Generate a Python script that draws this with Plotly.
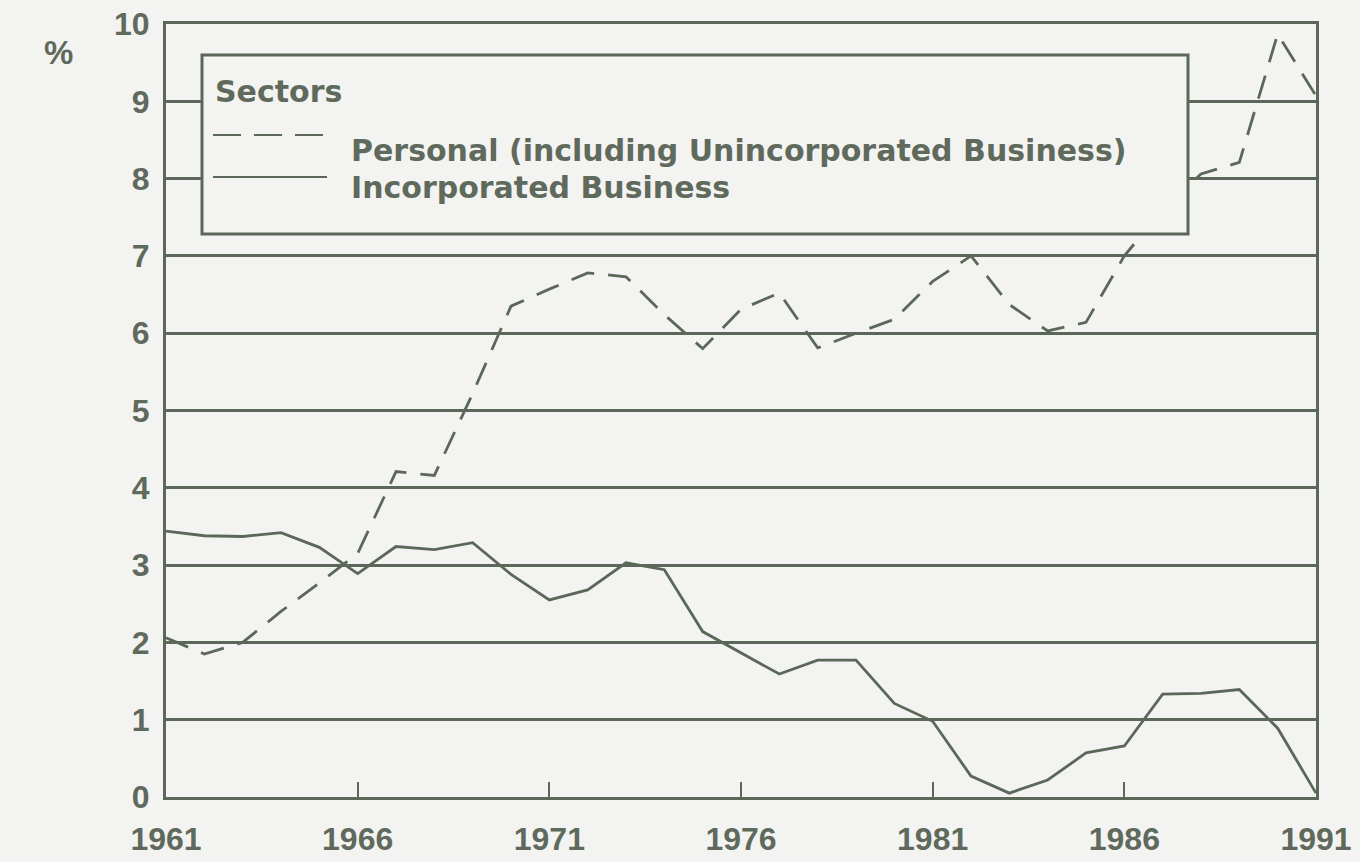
import plotly.graph_objects as go

years = list(range(1961, 1992))
personal = [2.06, 1.85, 2.00, 2.40, 2.77, 3.15, 4.21, 4.16, 5.22, 6.35,
            6.57, 6.78, 6.73, 6.24, 5.80, 6.31, 6.52, 5.81, 6.00, 6.18,
            6.67, 7.00, 6.37, 6.03, 6.14, 7.00, 7.60, 8.06, 8.21, 9.87, 9.07]
incorporated = [3.44, 3.38, 3.37, 3.42, 3.23, 2.89, 3.24, 3.20, 3.29, 2.88,
                2.55, 2.68, 3.03, 2.94, 2.14, 1.87, 1.59, 1.77, 1.77, 1.21,
                0.98, 0.27, 0.05, 0.22, 0.57, 0.66, 1.33, 1.34, 1.39, 0.89, 0.05]
x_ticks = [1961, 1966, 1971, 1976, 1981, 1986, 1991]
y_ticks = list(range(0, 11))
legend_title = "Sectors"
names = ["Personal (including Unincorporated Business)", "Incorporated Business"]

BG = "#f3f4f1"
INK = "#5b6859"
TXT = "#5f6a5d"
FONT = "Liberation Sans"
LFONT = "DejaVu Sans"

fig = go.Figure()
fig.add_trace(go.Scatter(x=years, y=personal, mode="lines", name=names[0],
                         line=dict(color=INK, width=2.8, dash="24px,14px"),
                         showlegend=False))
fig.add_trace(go.Scatter(x=years, y=incorporated, mode="lines", name=names[1],
                         line=dict(color=INK, width=2.8),
                         showlegend=False))

W, H = 1360, 862
PL, PR, PT, PB = 166, 1316, 24, 797          # plot box in page pixels
L, R, T, B = PL, W - PR, PT, H - PB
pw, ph = W - L - R, H - T - B

def px(x):
    return (x - L) / pw

def py(y):
    return (H - B - y) / ph

shapes = [
    dict(type="rect", xref="paper", yref="paper", x0=px(202), x1=px(1188),
         y0=py(234), y1=py(55), fillcolor=BG, line=dict(color=INK, width=3),
         layer="above"),
    dict(type="line", xref="paper", yref="paper", x0=px(213), x1=px(325),
         y0=py(135), y1=py(135), line=dict(color=INK, width=2, dash="28px,13px"),
         layer="above"),
    dict(type="line", xref="paper", yref="paper", x0=px(213), x1=px(327),
         y0=py(177), y1=py(177), line=dict(color=INK, width=2),
         layer="above"),
]

LF = 30
annotations = [
    dict(text="<b>" + legend_title + "</b>", xref="paper", yref="paper",
         x=px(213), y=py(91), xanchor="left", yanchor="middle", showarrow=False,
         font=dict(family=LFONT, size=LF, color=TXT)),
    dict(text="<b>" + names[0] + "</b>", xref="paper", yref="paper",
         x=px(349), y=py(151), xanchor="left", yanchor="middle", showarrow=False,
         font=dict(family=LFONT, size=LF, color=TXT)),
    dict(text="<b>" + names[1] + "</b>", xref="paper", yref="paper",
         x=px(349), y=py(187), xanchor="left", yanchor="middle", showarrow=False,
         font=dict(family=LFONT, size=LF, color=TXT)),
    dict(text="<b>%</b>", xref="paper", yref="paper",
         x=px(58), y=py(52), xanchor="center", yanchor="middle", showarrow=False,
         font=dict(family=FONT, size=33, color=TXT)),
]

fig.update_layout(
    width=W, height=H,
    margin=dict(l=L, r=R, t=T, b=B, autoexpand=False),
    paper_bgcolor=BG, plot_bgcolor=BG,
    shapes=shapes, annotations=annotations,
    showlegend=False,
    xaxis=dict(range=[1961, 1991], tickvals=x_ticks,
               ticktext=[str(v) for v in x_ticks],
               ticks="inside", ticklen=15, tickwidth=2, tickcolor=INK,
               ticklabelstandoff=12, automargin=False,
               ticklabeloverflow="allow",
               showgrid=False, zeroline=False,
               showline=True, linecolor=INK, linewidth=3, mirror=True,
               tickfont=dict(family=FONT, size=32, color=TXT, weight="bold")),
    yaxis=dict(range=[0, 10], tickvals=y_ticks,
               ticktext=[str(v) for v in y_ticks],
               ticks="", showgrid=True, gridcolor=INK, gridwidth=2.5,
               zeroline=False, ticklabelstandoff=7, automargin=False,
               ticklabeloverflow="allow",
               showline=True, linecolor=INK, linewidth=3, mirror=True,
               tickfont=dict(family=FONT, size=32, color=TXT, weight="bold")),
)

fig.write_html("out.html",
               config={"displayModeBar": False},
               post_script="document.body.style.margin='0';"
                           "document.body.style.overflow='hidden';")
